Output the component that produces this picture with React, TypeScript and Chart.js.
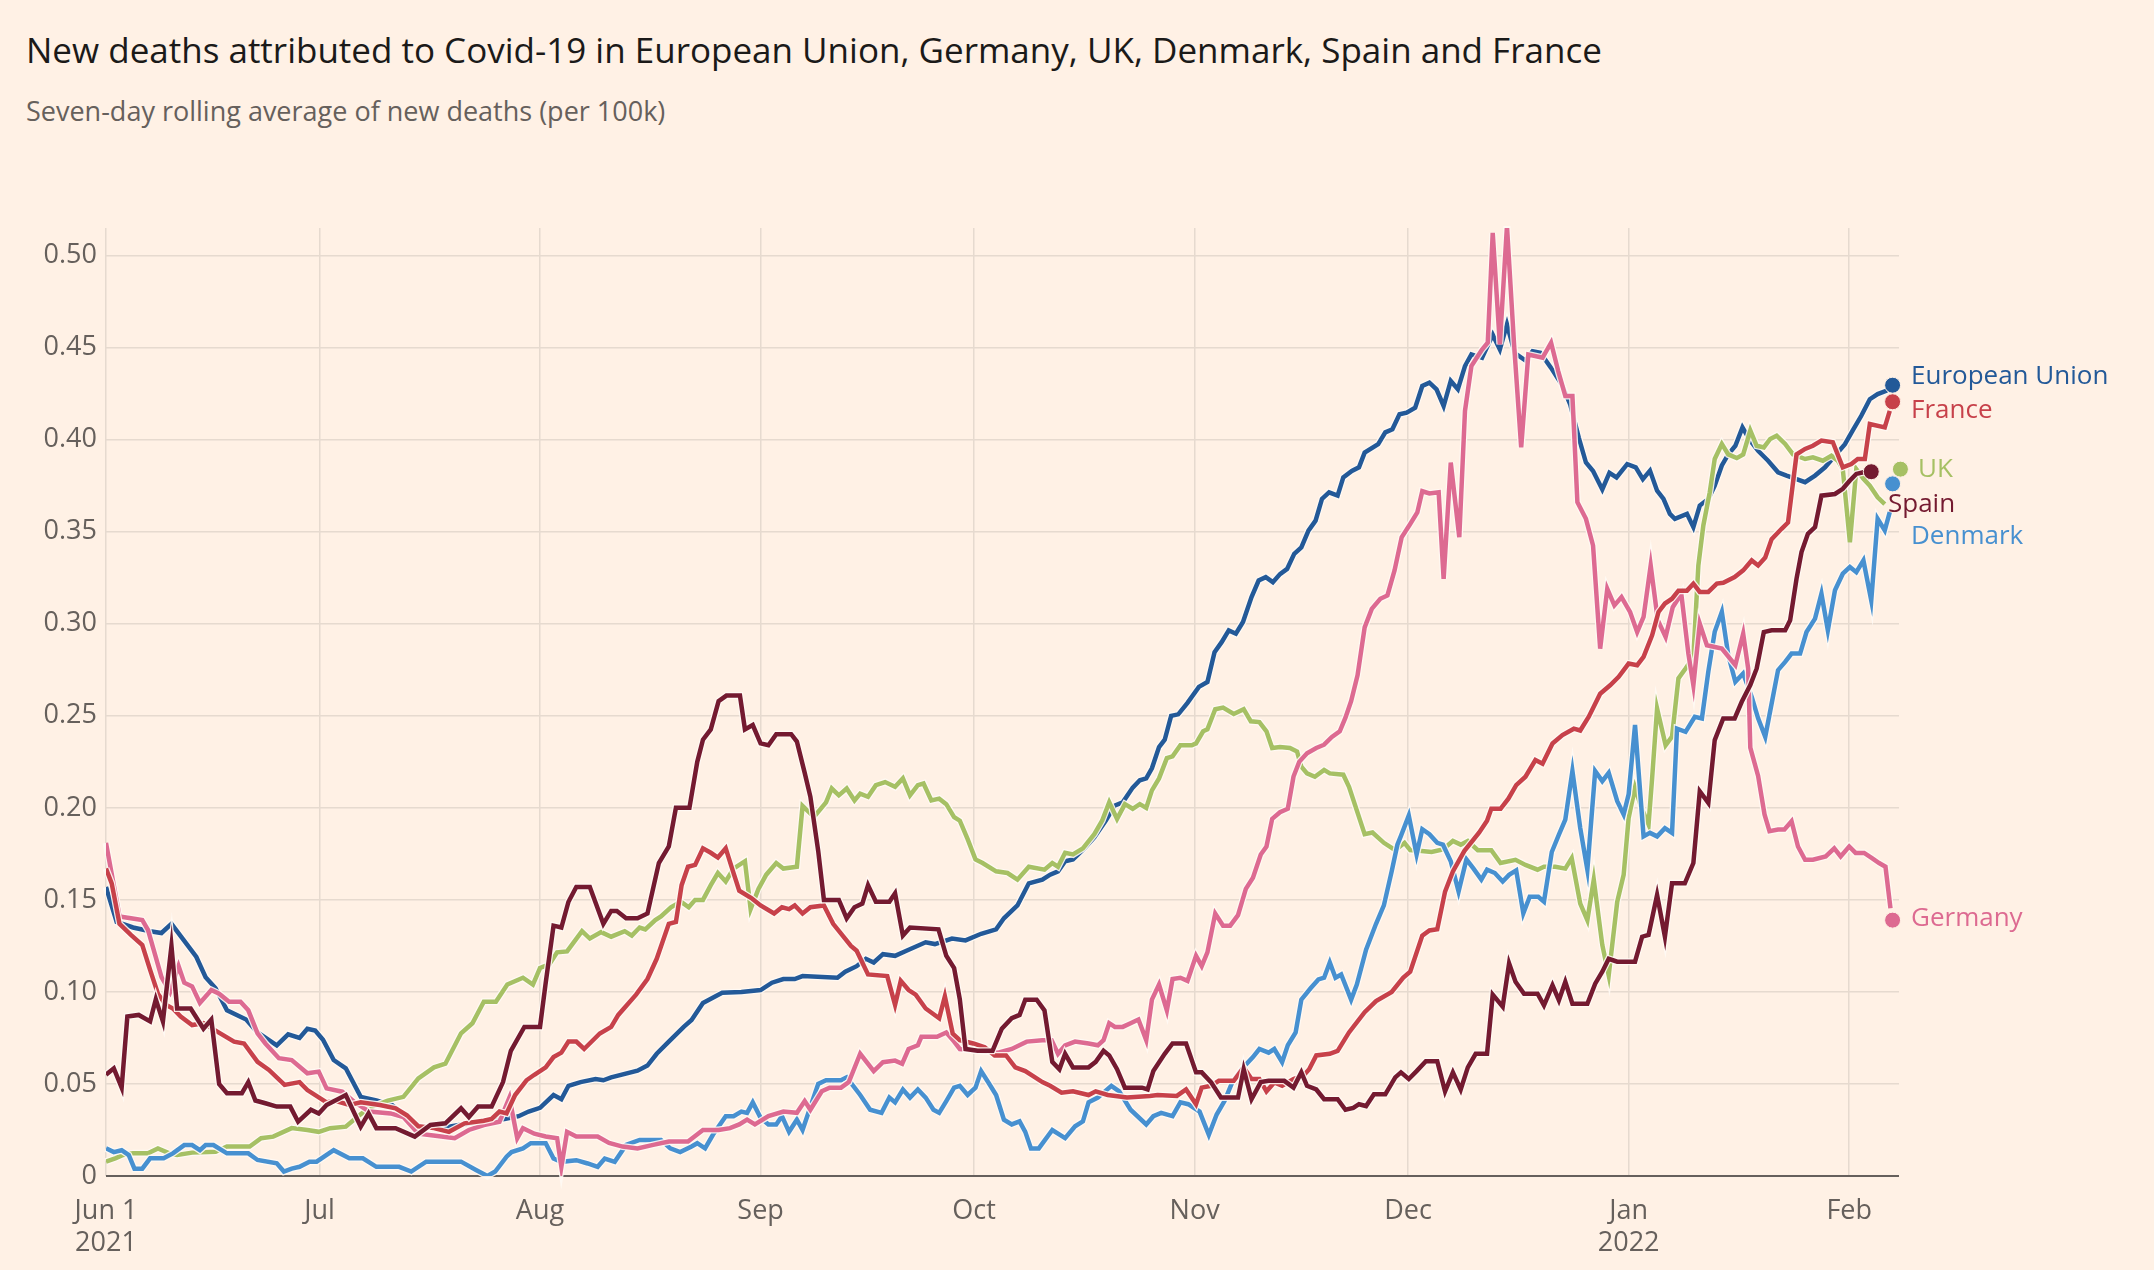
import { useEffect, useRef } from 'react'
import Chart from 'chart.js/auto'

// x values are days since 1 Jun 2021
const monthTicks = [0, 30, 61, 92, 122, 153, 183, 214, 245]
const monthLabels: (string | string[])[] = [['Jun 1', '2021'], 'Jul', 'Aug', 'Sep', 'Oct', 'Nov', 'Dec', ['Jan', '2022'], 'Feb']
const yTicks = [0, 0.05, 0.1, 0.15, 0.2, 0.25, 0.3, 0.35, 0.4, 0.45, 0.5]

const euPoints: [number, number][] = [
  [0, 0.157], [1.5, 0.138], [3.8, 0.135], [6.2, 0.133], [7.8, 0.132], [9.2, 0.137], [12.7, 0.119], [14, 0.108],
  [15.4, 0.102], [17, 0.09], [19.7, 0.085], [21.3, 0.078], [24, 0.071], [25.6, 0.077], [27.2, 0.075], [28.3, 0.08],
  [29.4, 0.079], [30.5, 0.074], [32, 0.063], [33.7, 0.0585], [35.8, 0.043], [38, 0.041], [40.2, 0.0386], [42, 0.033],
  [44, 0.027], [47, 0.026], [50, 0.028], [54, 0.03], [56, 0.031], [58, 0.0325], [59.4, 0.035], [61, 0.037],
  [62.9, 0.044], [64, 0.0417], [65, 0.049], [66.7, 0.051], [68.8, 0.0527], [69.9, 0.052], [71, 0.0536], [74.7, 0.0572],
  [76.1, 0.06], [77.4, 0.0664], [79.1, 0.073], [81.2, 0.081], [82.3, 0.0848], [83.9, 0.094], [86.6, 0.0995], [89.3, 0.1],
  [92, 0.101], [93.6, 0.105], [95.2, 0.107], [96.8, 0.107], [97.9, 0.1086], [102.8, 0.1077], [103.9, 0.111], [105.5, 0.114],
  [106.8, 0.118], [107.9, 0.116], [109.2, 0.1205], [110.9, 0.1196], [112.5, 0.1224], [115.2, 0.127], [116.5, 0.126],
  [118.9, 0.129], [120.8, 0.128], [123, 0.1316], [125.1, 0.134], [126.2, 0.14], [128.1, 0.147], [129.7, 0.159],
  [131.6, 0.161], [132.7, 0.1637], [133.8, 0.1655], [134.8, 0.171], [135.9, 0.172], [137.5, 0.178], [138.9, 0.184],
  [140.5, 0.193], [141.8, 0.2013], [142.9, 0.203], [144.3, 0.211], [145.3, 0.215], [146.2, 0.216], [147, 0.2215],
  [148, 0.233], [148.8, 0.237], [149.7, 0.25], [150.7, 0.2508], [152, 0.257], [153.6, 0.2657], [154.8, 0.2684],
  [155.8, 0.2846], [156.8, 0.29], [157.8, 0.2964], [158.8, 0.2946], [159.8, 0.301], [161, 0.3145], [162, 0.3235],
  [163, 0.3253], [164, 0.3226], [165, 0.327], [166, 0.3298], [167, 0.338], [168, 0.3415], [169, 0.3506], [170, 0.356],
  [170.9, 0.3678], [171.9, 0.3714], [173.1, 0.3696], [173.9, 0.3795], [175.1, 0.383], [176.1, 0.385], [176.9, 0.393],
  [178.8, 0.3976], [179.8, 0.404], [180.8, 0.4057], [181.8, 0.4138], [182.8, 0.4147], [184, 0.4174], [185, 0.4292],
  [186, 0.431], [187, 0.4274], [188, 0.4183], [189, 0.4319], [190, 0.4274], [191, 0.44], [191.9, 0.4463], [193.4, 0.4445],
  [194.9, 0.457], [195.9, 0.449], [196.9, 0.4626], [198, 0.447], [199.5, 0.443], [200.5, 0.448], [201.6, 0.4472],
  [203.1, 0.439], [204.6, 0.43], [205.8, 0.419], [207, 0.401], [208, 0.3876], [209, 0.383], [210.3, 0.373], [211.3, 0.382],
  [212.3, 0.3795], [213.8, 0.3867], [215, 0.385], [216, 0.3786], [217, 0.3832], [218, 0.3723], [218.9, 0.3678],
  [219.8, 0.3597], [220.5, 0.357], [222.2, 0.3597], [223.1, 0.3525], [224, 0.3642], [225.2, 0.3678], [226.1, 0.375],
  [227.1, 0.386], [228, 0.392], [229, 0.3967], [230, 0.4067], [231, 0.4], [232.2, 0.394], [233.6, 0.3886], [235, 0.3823],
  [236.2, 0.3805], [238.8, 0.3769], [240.2, 0.3805], [241.6, 0.385], [243, 0.3913], [244.4, 0.3976], [245.5, 0.405],
  [246.7, 0.413], [247.9, 0.422], [249, 0.4248], [250.2, 0.4266], [251.1, 0.4296],
]

const francePoints: [number, number][] = [
  [0, 0.167], [0.8, 0.159], [1.9, 0.137], [3.5, 0.131], [5.1, 0.1255], [6.2, 0.112], [7.3, 0.099], [8.4, 0.093],
  [9.4, 0.091], [10.5, 0.0866], [12.1, 0.082], [13.7, 0.083], [15.4, 0.079], [18, 0.073], [19.4, 0.072], [21.3, 0.062],
  [22.9, 0.0576], [25.1, 0.0495], [27.2, 0.051], [28.3, 0.0467], [31, 0.04], [32.1, 0.041], [34.2, 0.0386], [35.8, 0.04],
  [38.5, 0.0386], [40.7, 0.0368], [42.3, 0.033], [43.9, 0.027], [46.1, 0.026], [48.2, 0.024], [50.4, 0.0286], [53.1, 0.03],
  [54.2, 0.031], [55.3, 0.035], [56.3, 0.034], [57.5, 0.044], [59.1, 0.052], [60.2, 0.055], [61.8, 0.059], [62.9, 0.0646],
  [64, 0.067], [65, 0.073], [66.1, 0.073], [67.2, 0.069], [69.4, 0.0774], [71, 0.081], [72, 0.0875], [74.5, 0.0985],
  [76.1, 0.107], [77.4, 0.118], [79.1, 0.137], [80.1, 0.138], [80.9, 0.158], [81.8, 0.168], [82.8, 0.169], [83.9, 0.178],
  [85, 0.1756], [86, 0.173], [87.1, 0.178], [88, 0.167], [89, 0.155], [90.7, 0.151], [92, 0.147], [93.9, 0.1426],
  [95, 0.146], [96, 0.145], [96.8, 0.147], [97.9, 0.1426], [99, 0.146], [100.9, 0.147], [102.2, 0.137], [104.7, 0.125],
  [105.5, 0.1224], [107.1, 0.1095], [109.8, 0.1086], [110.9, 0.093], [111.7, 0.106], [112.8, 0.101], [113.8, 0.0985],
  [115.2, 0.091], [117.1, 0.0857], [117.9, 0.0976], [119, 0.0774], [120, 0.0738], [121.9, 0.072], [123.5, 0.07],
  [124.9, 0.0655], [126.5, 0.0655], [127.8, 0.059], [129.2, 0.057], [130.2, 0.0545], [131.6, 0.051], [132.7, 0.049],
  [134.3, 0.0453], [135.9, 0.046], [138.1, 0.044], [139.1, 0.046], [140.8, 0.044], [143.5, 0.0426], [146.7, 0.0435],
  [147.8, 0.044], [150.5, 0.0435], [151.8, 0.047], [153.2, 0.039], [154, 0.048], [155.3, 0.049], [156.4, 0.0517],
  [158.5, 0.0517], [159.9, 0.059], [161, 0.0527], [162.1, 0.0527], [163.1, 0.046], [164.2, 0.0508], [165.3, 0.049],
  [166.9, 0.0527], [168.3, 0.0545], [169.1, 0.058], [170.1, 0.0655], [172, 0.0664], [173.1, 0.068], [174.7, 0.078],
  [176.9, 0.089], [178.5, 0.095], [180.7, 0.1], [182.3, 0.1077], [183.3, 0.111], [185, 0.1306], [186, 0.1334],
  [187.1, 0.134], [188.2, 0.1545], [189.3, 0.1655], [190.9, 0.1765], [193, 0.1866], [194.1, 0.193], [194.7, 0.1995],
  [196, 0.1995], [197.1, 0.205], [198.2, 0.2123], [199.5, 0.2169], [200.9, 0.226], [201.9, 0.224], [203.3, 0.235],
  [204.7, 0.2395], [206.3, 0.243], [207.2, 0.242], [208.4, 0.2495], [210, 0.262], [211.4, 0.2666], [212.6, 0.2712],
  [214, 0.2784], [215.2, 0.2775], [216.1, 0.282], [217.3, 0.2937], [218.2, 0.3064], [219.1, 0.311], [220.1, 0.3136],
  [221, 0.318], [222.2, 0.318], [223.1, 0.3218], [224, 0.3173], [225.2, 0.3173], [226.4, 0.3218], [227.3, 0.3223],
  [228.9, 0.3254], [230.1, 0.329], [231.3, 0.3344], [232.2, 0.3317], [233.2, 0.336], [234.1, 0.346], [235.5, 0.3516],
  [236.4, 0.355], [237.6, 0.392], [238.8, 0.395], [239.9, 0.3967], [241.1, 0.3995], [242.7, 0.3986], [244.1, 0.385],
  [245.3, 0.3868], [246.2, 0.3895], [247.2, 0.3895], [247.9, 0.4085], [250, 0.4067], [250.7, 0.4157],
]

const ukPoints: [number, number][] = [
  [0, 0.0078], [1.3, 0.0096], [2.4, 0.0114], [3.8, 0.0123], [5.9, 0.0123], [7.3, 0.015], [8.9, 0.0123], [10, 0.0114],
  [12.1, 0.0127], [15.4, 0.0132], [17, 0.016], [20.2, 0.016], [21.8, 0.0205], [23.5, 0.0214], [26.1, 0.026], [28.3, 0.025],
  [29.9, 0.024], [31.5, 0.026], [33.7, 0.0268], [35.3, 0.032], [36.9, 0.0368], [39.6, 0.041], [41.8, 0.043], [43.9, 0.053],
  [46.1, 0.059], [47.7, 0.061], [49.9, 0.0775], [51.5, 0.083], [53.1, 0.0947], [54.8, 0.0947], [56.4, 0.104], [58.6, 0.1077],
  [60, 0.104], [61, 0.113], [62.3, 0.115], [63.4, 0.1215], [64.8, 0.122], [66.9, 0.133], [68, 0.129], [69.6, 0.1325],
  [71, 0.13], [72.9, 0.133], [73.9, 0.1306], [75, 0.135], [75.8, 0.134], [77.2, 0.139], [78, 0.141], [79.4, 0.146],
  [80.8, 0.149], [81.9, 0.146], [82.8, 0.15], [83.9, 0.15], [85, 0.158], [86, 0.1646], [87.1, 0.16], [88.2, 0.167],
  [89.8, 0.171], [90.6, 0.145], [91.7, 0.156], [92.8, 0.1637], [94.2, 0.17], [95.2, 0.167], [97.1, 0.168], [97.9, 0.201],
  [99.5, 0.195], [101.2, 0.203], [102, 0.2105], [103, 0.2068], [104.1, 0.2105], [105.2, 0.204], [106, 0.2077], [107.1, 0.206],
  [108.2, 0.2123], [109.5, 0.214], [110.9, 0.2114], [112, 0.216], [113, 0.2068], [114.1, 0.2123], [114.9, 0.2132], [116, 0.204],
  [117.1, 0.205], [118.1, 0.202], [119.2, 0.195], [120, 0.193], [121.1, 0.183], [122.2, 0.172], [123.2, 0.17], [125.1, 0.1655],
  [126.7, 0.1646], [128.1, 0.161], [129.7, 0.168], [131.9, 0.1664], [133, 0.17], [133.8, 0.168], [134.8, 0.1756],
  [135.9, 0.1747], [137.3, 0.178], [138.9, 0.1857], [140, 0.193], [141, 0.203], [142.1, 0.194], [143.2, 0.202],
  [144.3, 0.1995], [145.3, 0.202], [146.2, 0.2], [147, 0.2095], [148, 0.216], [149.1, 0.227], [149.9, 0.228], [151, 0.234],
  [152.6, 0.234], [153.2, 0.235], [154.2, 0.2416], [154.8, 0.2426], [155.9, 0.2536], [157, 0.2545], [158.5, 0.251],
  [159.9, 0.2536], [160.9, 0.247], [162.1, 0.2466], [163.1, 0.2416], [163.9, 0.2325], [165, 0.233], [166.4, 0.2325],
  [167.4, 0.2306], [168, 0.2224], [168.8, 0.2187], [169.9, 0.2169], [171.2, 0.2206], [172, 0.2187], [173.9, 0.218],
  [174.7, 0.2114], [176.9, 0.1857], [178, 0.1866], [179.6, 0.181], [181.2, 0.177], [182.5, 0.181], [183.3, 0.177],
  [184.9, 0.1765], [186.3, 0.176], [187.9, 0.1774], [189.3, 0.182], [190.4, 0.18], [191.4, 0.182], [192.8, 0.177],
  [194.7, 0.177], [196, 0.17], [198.1, 0.1718], [199.5, 0.169], [201.2, 0.1664], [202.1, 0.168], [203.7, 0.168],
  [205.1, 0.167], [206, 0.1727], [207.2, 0.148], [208.2, 0.139], [209.1, 0.161], [210.3, 0.1255], [211.2, 0.109],
  [212.4, 0.149], [213.3, 0.1636], [214, 0.1945], [214.9, 0.211], [215.8, 0.2], [216.8, 0.191], [217.3, 0.216], [218, 0.254],
  [219.2, 0.234], [220.1, 0.2387], [221, 0.2703], [222, 0.2757], [223.1, 0.282], [223.8, 0.3317], [224.5, 0.3534],
  [225.4, 0.3714], [226.1, 0.3895], [227.1, 0.3977], [228, 0.392], [229.2, 0.39], [230.1, 0.392], [231.1, 0.405],
  [232, 0.3967], [233, 0.3958], [233.9, 0.4004], [234.8, 0.4022], [236, 0.3977], [237.1, 0.392], [238.8, 0.3895],
  [239.9, 0.3904], [241.3, 0.3886], [242.5, 0.3913], [243.4, 0.3886], [244.1, 0.384], [245.1, 0.3443], [246, 0.384],
  [247, 0.3787], [247.9, 0.375], [249, 0.3687], [250, 0.365],
]

const spainPoints: [number, number][] = [
  [0, 0.055], [1.1, 0.0585], [2.2, 0.048], [3, 0.0866], [4.6, 0.0875], [6.2, 0.084], [7, 0.096], [8, 0.084], [9.2, 0.125],
  [10, 0.091], [11.9, 0.091], [13.7, 0.08], [14.8, 0.085], [15.9, 0.05], [17, 0.045], [19.1, 0.045], [20, 0.051], [21, 0.041],
  [22.4, 0.0395], [24, 0.0377], [25.9, 0.0377], [27, 0.0295], [28.8, 0.036], [29.9, 0.034], [31, 0.0386], [33.7, 0.044],
  [35.8, 0.0268], [36.9, 0.034], [38, 0.026], [40.7, 0.026], [43.4, 0.0214], [45.6, 0.0277], [47.7, 0.0286], [49.9, 0.0368],
  [51, 0.032], [52.3, 0.0377], [54.2, 0.0377], [55.8, 0.051], [56.9, 0.068], [58.8, 0.081], [61, 0.081], [61.8, 0.105],
  [62.9, 0.136], [64, 0.135], [65, 0.149], [66.1, 0.157], [68, 0.157], [69.9, 0.137], [71, 0.144], [71.8, 0.144],
  [73.1, 0.14], [74.7, 0.14], [76.1, 0.1426], [77.7, 0.17], [79.1, 0.179], [80.1, 0.2], [82, 0.2], [83.1, 0.225],
  [83.9, 0.237], [85, 0.2426], [86.1, 0.258], [87.2, 0.261], [89.1, 0.261], [89.8, 0.2426], [90.9, 0.245], [92, 0.235],
  [93.1, 0.234], [94.2, 0.24], [96.3, 0.24], [97.1, 0.236], [98.2, 0.219], [99, 0.206], [100.1, 0.1765], [100.9, 0.15],
  [103, 0.15], [104.1, 0.14], [105.2, 0.146], [106.3, 0.148], [107.1, 0.158], [108.2, 0.149], [110.1, 0.149], [110.9, 0.1536],
  [112, 0.1306], [113, 0.135], [117, 0.134], [118.1, 0.1196], [119.2, 0.113], [120, 0.096], [120.8, 0.069], [122.5, 0.068],
  [124.6, 0.068], [125.9, 0.08], [127.3, 0.0857], [128.4, 0.0875], [129.2, 0.0958], [130.8, 0.0958], [131.9, 0.09],
  [133, 0.062], [134, 0.058], [134.8, 0.0664], [135.9, 0.059], [138.1, 0.059], [139.1, 0.062], [140.2, 0.068], [141, 0.0655],
  [142.1, 0.058], [143.2, 0.048], [145.6, 0.048], [146.4, 0.047], [147.2, 0.057], [148.8, 0.0664], [149.9, 0.072],
  [151.8, 0.072], [153.2, 0.0563], [154, 0.0563], [155.3, 0.051], [156.7, 0.0426], [159.1, 0.0426], [159.9, 0.058],
  [161, 0.0417], [162.3, 0.051], [163.4, 0.0517], [165.6, 0.0517], [166.9, 0.048], [168, 0.0563], [168.8, 0.049],
  [170.1, 0.047], [171.2, 0.0417], [173.1, 0.0417], [174.2, 0.036], [175.3, 0.037], [176.1, 0.039], [177.1, 0.038],
  [178.2, 0.0444], [179.8, 0.0444], [181.2, 0.0536], [182, 0.0563], [183.1, 0.0527], [184.2, 0.057], [185.5, 0.0624],
  [187.1, 0.0624], [188.2, 0.046], [189.3, 0.0563], [190.4, 0.047], [191.4, 0.059], [192.5, 0.0664], [194.1, 0.0664],
  [194.9, 0.0985], [196.3, 0.092], [197.2, 0.1155], [198.1, 0.1055], [199.3, 0.099], [201.2, 0.099], [202.1, 0.0927],
  [203.3, 0.1036], [204.2, 0.0955], [205.1, 0.1055], [206.1, 0.0936], [208.2, 0.0936], [209.3, 0.1045], [210.3, 0.111],
  [211.2, 0.118], [212.4, 0.1164], [214.9, 0.1164], [215.9, 0.13], [216.8, 0.131], [218, 0.1527], [219.1, 0.13],
  [220.1, 0.159], [221.9, 0.159], [223.1, 0.17], [224, 0.209], [225.2, 0.2027], [226.1, 0.2368], [227.3, 0.2486],
  [228.9, 0.2486], [229.9, 0.2576], [231.1, 0.2667], [232, 0.2757], [233, 0.2955], [234.1, 0.2965], [236, 0.2965],
  [236.7, 0.3019], [237.6, 0.3245], [238.3, 0.339], [239.2, 0.3489], [240.2, 0.3525], [241.1, 0.3696], [243, 0.3705],
  [244.1, 0.3733], [245.1, 0.3778], [246, 0.3814], [247, 0.3823], [248.1, 0.3826],
]

const denmarkPoints: [number, number][] = [
  [0, 0.015], [1.1, 0.013], [2.2, 0.014], [3.2, 0.0114], [4, 0.004], [5.1, 0.004], [6.2, 0.0096], [8.1, 0.0096],
  [9.4, 0.0123], [11, 0.0168], [12.1, 0.0168], [13.2, 0.014], [14, 0.0168], [15.1, 0.0168], [17, 0.0123], [20, 0.0123],
  [21.3, 0.0087], [24, 0.0069], [25, 0.0024], [26.1, 0.004], [27.2, 0.005], [28.6, 0.0078], [29.6, 0.0078], [32, 0.014],
  [34.2, 0.0096], [36.1, 0.0096], [38, 0.005], [41.2, 0.005], [42.9, 0.0024], [45, 0.0078], [49.9, 0.0078], [52, 0.0033],
  [53.6, 0], [54.7, 0.0024], [56.3, 0.0105], [57, 0.013], [58.6, 0.015], [59.7, 0.0178], [61.8, 0.0178], [62.9, 0.0095],
  [64, 0.0077], [66.1, 0.0086], [67.7, 0.0068], [69.1, 0.005], [70.1, 0.0095], [71.5, 0.0077], [73.1, 0.0169], [75, 0.0196],
  [78, 0.0196], [79.3, 0.015], [80.7, 0.013], [82.3, 0.016], [83.1, 0.0178], [84.2, 0.015], [85.3, 0.0224], [87.1, 0.0325],
  [88.2, 0.0325], [89.3, 0.035], [90.1, 0.0343], [90.9, 0.04], [92, 0.0316], [93.1, 0.028], [94.2, 0.028], [95, 0.0325],
  [96, 0.024], [97.1, 0.0306], [97.9, 0.025], [100.1, 0.05], [101.2, 0.052], [103.3, 0.052], [104.1, 0.0536], [106, 0.044],
  [107.4, 0.036], [109, 0.0343], [110.1, 0.0426], [110.9, 0.04], [112, 0.047], [113, 0.0426], [114.1, 0.047], [115.2, 0.0426],
  [116.3, 0.036], [117.1, 0.0343], [118.1, 0.0407], [119.2, 0.048], [120, 0.049], [121.1, 0.044], [122.2, 0.048], [123, 0.057],
  [124.3, 0.049], [125.1, 0.044], [126.2, 0.0306], [127.3, 0.028], [128.4, 0.0297], [129.2, 0.024], [130, 0.015],
  [131.1, 0.015], [133, 0.025], [134.8, 0.0206], [136.2, 0.027], [137.3, 0.0297], [138.1, 0.04], [139.4, 0.0426],
  [141.3, 0.049], [142.4, 0.046], [144, 0.036], [146.2, 0.028], [147.2, 0.0325], [148.3, 0.0343], [149.9, 0.0325],
  [151, 0.04], [152.1, 0.039], [153.7, 0.035], [155, 0.0224], [156.1, 0.0334], [157.2, 0.0407], [158.3, 0.051],
  [159.6, 0.058], [161.2, 0.0646], [162.1, 0.069], [163.4, 0.067], [164.2, 0.069], [165.3, 0.0618], [166.1, 0.071],
  [167.2, 0.078], [168, 0.0958], [169.3, 0.102], [170.4, 0.1068], [171.2, 0.1077], [172, 0.116], [172.8, 0.1077],
  [173.6, 0.1095], [175, 0.0958], [175.8, 0.104], [177.1, 0.123], [178.5, 0.137], [179.6, 0.147], [180.7, 0.1655],
  [181.5, 0.18], [182, 0.1848], [183.1, 0.1958], [184.2, 0.1747], [185, 0.1884], [186, 0.1857], [187.1, 0.181],
  [187.9, 0.18], [189, 0.171], [190.1, 0.1545], [191.2, 0.172], [192.2, 0.167], [193.3, 0.161], [194.1, 0.1664],
  [195.2, 0.1646], [196.3, 0.16], [197.2, 0.1636], [198.2, 0.166], [199.2, 0.1427], [200.1, 0.1517], [201.3, 0.1517],
  [202.1, 0.149], [203.2, 0.176], [204.2, 0.1855], [205.1, 0.1936], [206.1, 0.22], [207.2, 0.189], [208.2, 0.1664],
  [209.3, 0.22], [210.3, 0.2145], [211.2, 0.219], [212.4, 0.2036], [213.3, 0.1964], [214, 0.2073], [214.9, 0.245],
  [216.1, 0.1845], [217, 0.1864], [218, 0.1845], [219.1, 0.189], [220.1, 0.1864], [220.8, 0.243], [222, 0.2413],
  [223.3, 0.2495], [224.3, 0.2486], [225.2, 0.274], [226.1, 0.2956], [227.1, 0.3064], [228, 0.283], [229, 0.2685],
  [230.1, 0.273], [231.3, 0.2603], [232.2, 0.2486], [233.2, 0.2386], [234.1, 0.2567], [235, 0.2748], [236, 0.2793],
  [236.9, 0.2838], [238.1, 0.2838], [239, 0.2955], [240.2, 0.3028], [241.1, 0.3163], [242, 0.2964], [243, 0.3182],
  [244.1, 0.3272], [245.1, 0.3308], [246, 0.328], [247, 0.3344], [248.1, 0.3127], [249, 0.357], [250, 0.3507], [250.7, 0.3606],
]

const germanyPoints: [number, number][] = [
  [0, 0.181], [1.9, 0.141], [3.5, 0.14], [5.1, 0.139], [5.9, 0.1337], [7.8, 0.108], [9, 0.1], [10.2, 0.114], [11, 0.105],
  [12.1, 0.103], [13.2, 0.094], [14.8, 0.101], [15.9, 0.099], [17.3, 0.0947], [18.9, 0.0947], [20, 0.09], [21.3, 0.0775],
  [22.4, 0.072], [24.3, 0.064], [26.1, 0.063], [28.3, 0.0558], [29.9, 0.0567], [31, 0.0476], [33.2, 0.0458], [35, 0.04],
  [37, 0.035], [40, 0.034], [41.8, 0.032], [43.9, 0.023], [46, 0.022], [49, 0.0205], [51, 0.025], [53.1, 0.0277],
  [55.3, 0.0295], [56.7, 0.0426], [57.8, 0.0205], [58.6, 0.026], [60.2, 0.023], [61.8, 0.0215], [63.4, 0.0205], [64, 0.005],
  [64.8, 0.024], [66.1, 0.0215], [69.1, 0.0215], [70.7, 0.018], [72.6, 0.016], [74.7, 0.015], [76.9, 0.0169], [79.1, 0.0187],
  [81.8, 0.0187], [83.9, 0.025], [86.1, 0.025], [87.7, 0.026], [89, 0.028], [90.1, 0.0306], [91.2, 0.028], [93.1, 0.0325],
  [95.2, 0.035], [97.1, 0.0343], [98.2, 0.0407], [99, 0.036], [100.6, 0.046], [101.7, 0.048], [103.3, 0.048], [104.4, 0.051],
  [106, 0.0664], [107.9, 0.057], [109.2, 0.0618], [110.9, 0.0627], [111.9, 0.061], [112.8, 0.069], [114.1, 0.071],
  [114.6, 0.0756], [116.8, 0.0756], [118.1, 0.078], [119.2, 0.073], [120, 0.069], [122.7, 0.068], [125.4, 0.067],
  [127.3, 0.069], [129.4, 0.073], [131.6, 0.0738], [132.9, 0.0738], [133.8, 0.0664], [134.8, 0.071], [136.2, 0.073],
  [138.1, 0.072], [139.4, 0.071], [140.2, 0.0738], [141, 0.083], [141.8, 0.081], [142.9, 0.081], [144, 0.083], [145.1, 0.085],
  [146.2, 0.0738], [147, 0.0958], [148, 0.104], [149.1, 0.09], [149.9, 0.107], [151, 0.1077], [152, 0.106], [153.2, 0.1196],
  [154, 0.114], [154.8, 0.1215], [155.9, 0.1426], [157, 0.136], [158, 0.136], [159.1, 0.1417], [160.2, 0.156], [161.2, 0.162],
  [162.3, 0.1747], [163.1, 0.179], [163.9, 0.194], [165, 0.1976], [166.1, 0.1995], [166.9, 0.217], [167.7, 0.225],
  [168.8, 0.2297], [170.1, 0.2325], [171.2, 0.2343], [172.3, 0.2385], [173.4, 0.2416], [174.2, 0.249], [175, 0.258],
  [175.9, 0.272], [176.9, 0.298], [177.9, 0.3081], [179.1, 0.3136], [180.1, 0.3154], [181.1, 0.329], [182.1, 0.347],
  [183.3, 0.3542], [184.3, 0.3605], [185, 0.372], [186, 0.3708], [187.3, 0.3714], [188, 0.3244], [189, 0.3876],
  [190.2, 0.347], [191, 0.4156], [191.9, 0.44], [193.4, 0.449], [194.2, 0.4527], [194.9, 0.5123], [195.9, 0.4518],
  [196.9, 0.516], [197.9, 0.4518], [198.9, 0.3958], [199.9, 0.4463], [201.9, 0.4445], [203.1, 0.4527], [204.1, 0.4373],
  [205.1, 0.4238], [206.1, 0.4238], [206.8, 0.366], [208, 0.357], [209, 0.3425], [210, 0.2865], [211, 0.319], [212, 0.31],
  [213, 0.3145], [214.2, 0.3064], [215.2, 0.2955], [216.1, 0.3037], [217.1, 0.3317], [218.1, 0.302], [219.2, 0.2928],
  [220.2, 0.309], [221.4, 0.3163], [222.4, 0.2837], [223.1, 0.2666], [224, 0.3], [225, 0.2883], [227.1, 0.2865],
  [229, 0.2775], [230.1, 0.2946], [230.8, 0.2757], [231.1, 0.2327], [232.2, 0.2173], [233.1, 0.1964], [233.8, 0.1873],
  [235, 0.1882], [235.9, 0.1882], [236.9, 0.1927], [237.8, 0.179], [238.8, 0.1718], [239.9, 0.1718], [241.7, 0.1736],
  [242.9, 0.178], [243.8, 0.1736], [245, 0.179], [245.9, 0.1755], [247.1, 0.1755], [248.2, 0.1727], [249.2, 0.17],
  [250.1, 0.168], [250.8, 0.1455],
]

// end markers, in the order: EU, France, UK, Spain, Denmark, Germany
const endDotDays = [251.1, 251.1, 252.2, 248.1, 251.1, 251.1]
const endDotValues = [0.4296, 0.4206, 0.384, 0.3826, 0.376, 0.139]

const seriesNames = ['European Union', 'France', 'UK', 'Spain', 'Denmark', 'Germany']
const seriesColors = ['#235998', '#c7414a', '#a6c064', '#741a30', '#4790d0', '#dd6a91']
const seriesPoints = [euPoints, francePoints, ukPoints, spainPoints, denmarkPoints, germanyPoints]
// drawing order: lower is on top
const seriesOrder = [7, 2, 6, 1, 5, 3]

// where each name sits, in data units, plus a pixel nudge from the plot's right edge
const labelValues = [0.4345, 0.416, 0.384, 0.365, 0.3476, 0.1396]
const labelNudge = [12, 12, 19, -11, 12, 12]

const FONT = '"Open Sans", "Noto Sans", sans-serif'
const INK = '#66605c'
const GRID = '#e6dacf'

const endLabels = {
  id: 'endLabels',
  afterDatasetsDraw(chart: any) {
    const { ctx, chartArea, scales } = chart
    ctx.save()
    ctx.font = `26px ${FONT}`
    ctx.textBaseline = 'middle'
    ctx.textAlign = 'left'
    seriesNames.forEach((name, i) => {
      ctx.fillStyle = seriesColors[i]
      ctx.fillText(name, chartArea.right + labelNudge[i], scales.y.getPixelForValue(labelValues[i]))
    })
    ctx.restore()
  },
}

// thin pale outline under each line, so crossings read like the FT style
const lineHalo = {
  id: 'lineHalo',
  beforeDatasetDraw(chart: any, args: any) {
    const el = args.meta.dataset
    if (!el || args.index === 0) return
    const o = el.options
    const color = o.borderColor
    const width = o.borderWidth
    o.borderColor = 'rgba(255, 250, 244, 0.9)'
    o.borderWidth = width + 2.5
    chart.ctx.save()
    el.draw(chart.ctx, chart.chartArea)
    chart.ctx.restore()
    o.borderColor = color
    o.borderWidth = width
  },
}

export default function App() {
  const canvasRef = useRef<HTMLCanvasElement>(null)

  useEffect(() => {
    if (!canvasRef.current) return

    const lines: any[] = seriesPoints.map((pts, i) => ({
      label: seriesNames[i],
      data: pts.map(([x, y]) => ({ x, y })),
      borderColor: seriesColors[i],
      backgroundColor: seriesColors[i],
      borderWidth: 4.5,
      pointRadius: 0,
      tension: 0,
      fill: false,
      order: seriesOrder[i],
    }))

    const dots = {
      label: 'end',
      data: endDotDays.map((x, i) => ({ x, y: endDotValues[i] })),
      showLine: false,
      pointRadius: 8,
      pointBackgroundColor: seriesColors,
      pointBorderColor: '#fff1e5',
      pointBorderWidth: 1,
      clip: false,
      order: 0,
    }

    const chart = new Chart(canvasRef.current, {
      type: 'line',
      data: { datasets: [dots, ...lines] },
      options: {
        animation: false,
        responsive: true,
        maintainAspectRatio: false,
        layout: { padding: { top: 228, right: 255, left: 0, bottom: 0 } },
        plugins: { legend: { display: false }, tooltip: { enabled: false } },
        scales: {
          x: {
            type: 'linear',
            min: 0,
            max: 252,
            afterBuildTicks: (s: any) => {
              s.ticks = monthTicks.map((v) => ({ value: v }))
            },
            afterFit: (s: any) => {
              s.height = 94
            },
            ticks: {
              autoSkip: false,
              maxRotation: 0,
              padding: 19,
              color: INK,
              font: { family: FONT, size: 27, lineHeight: 1.2 },
              callback: (v: any) => monthLabels[monthTicks.indexOf(v)],
            },
            grid: { color: GRID, lineWidth: 1.5, drawTicks: false },
            border: { display: false },
          },
          y: {
            min: 0,
            max: 0.515,
            afterBuildTicks: (s: any) => {
              s.ticks = yTicks.map((v) => ({ value: v }))
            },
            afterFit: (s: any) => {
              s.width = 106
            },
            ticks: {
              padding: 9,
              color: INK,
              font: { family: FONT, size: 27 },
              callback: (v: any) => (v === 0 ? '0' : Number(v).toFixed(2)),
            },
            grid: {
              color: (c: any) => (c.tick && c.tick.value === 0 ? INK : GRID),
              lineWidth: (c: any) => (c.tick && c.tick.value === 0 ? 2 : 1.5),
              drawTicks: false,
            },
            border: { display: false },
          },
        },
      },
      plugins: [lineHalo, endLabels],
    })

    return () => chart.destroy()
  }, [])

  return (
    <div style={{ position: 'fixed', left: 0, top: 0, width: 2154, height: 1270, background: '#fff1e5', overflow: 'hidden' }}>
      <div style={{ position: 'absolute', left: 26, top: 32, fontFamily: FONT, fontSize: 35, lineHeight: 1, color: '#1b1a19', whiteSpace: 'nowrap' }}>
        New deaths attributed to Covid-19 in European Union, Germany, UK, Denmark, Spain and France
      </div>
      <div style={{ position: 'absolute', left: 26, top: 97, fontFamily: FONT, fontSize: 27, lineHeight: 1, color: INK, whiteSpace: 'nowrap' }}>
        Seven-day rolling average of new deaths (per 100k)
      </div>
      <div style={{ position: 'absolute', left: 0, top: 0, width: 2154, height: 1270 }}>
        <canvas ref={canvasRef} />
      </div>
    </div>
  )
}
